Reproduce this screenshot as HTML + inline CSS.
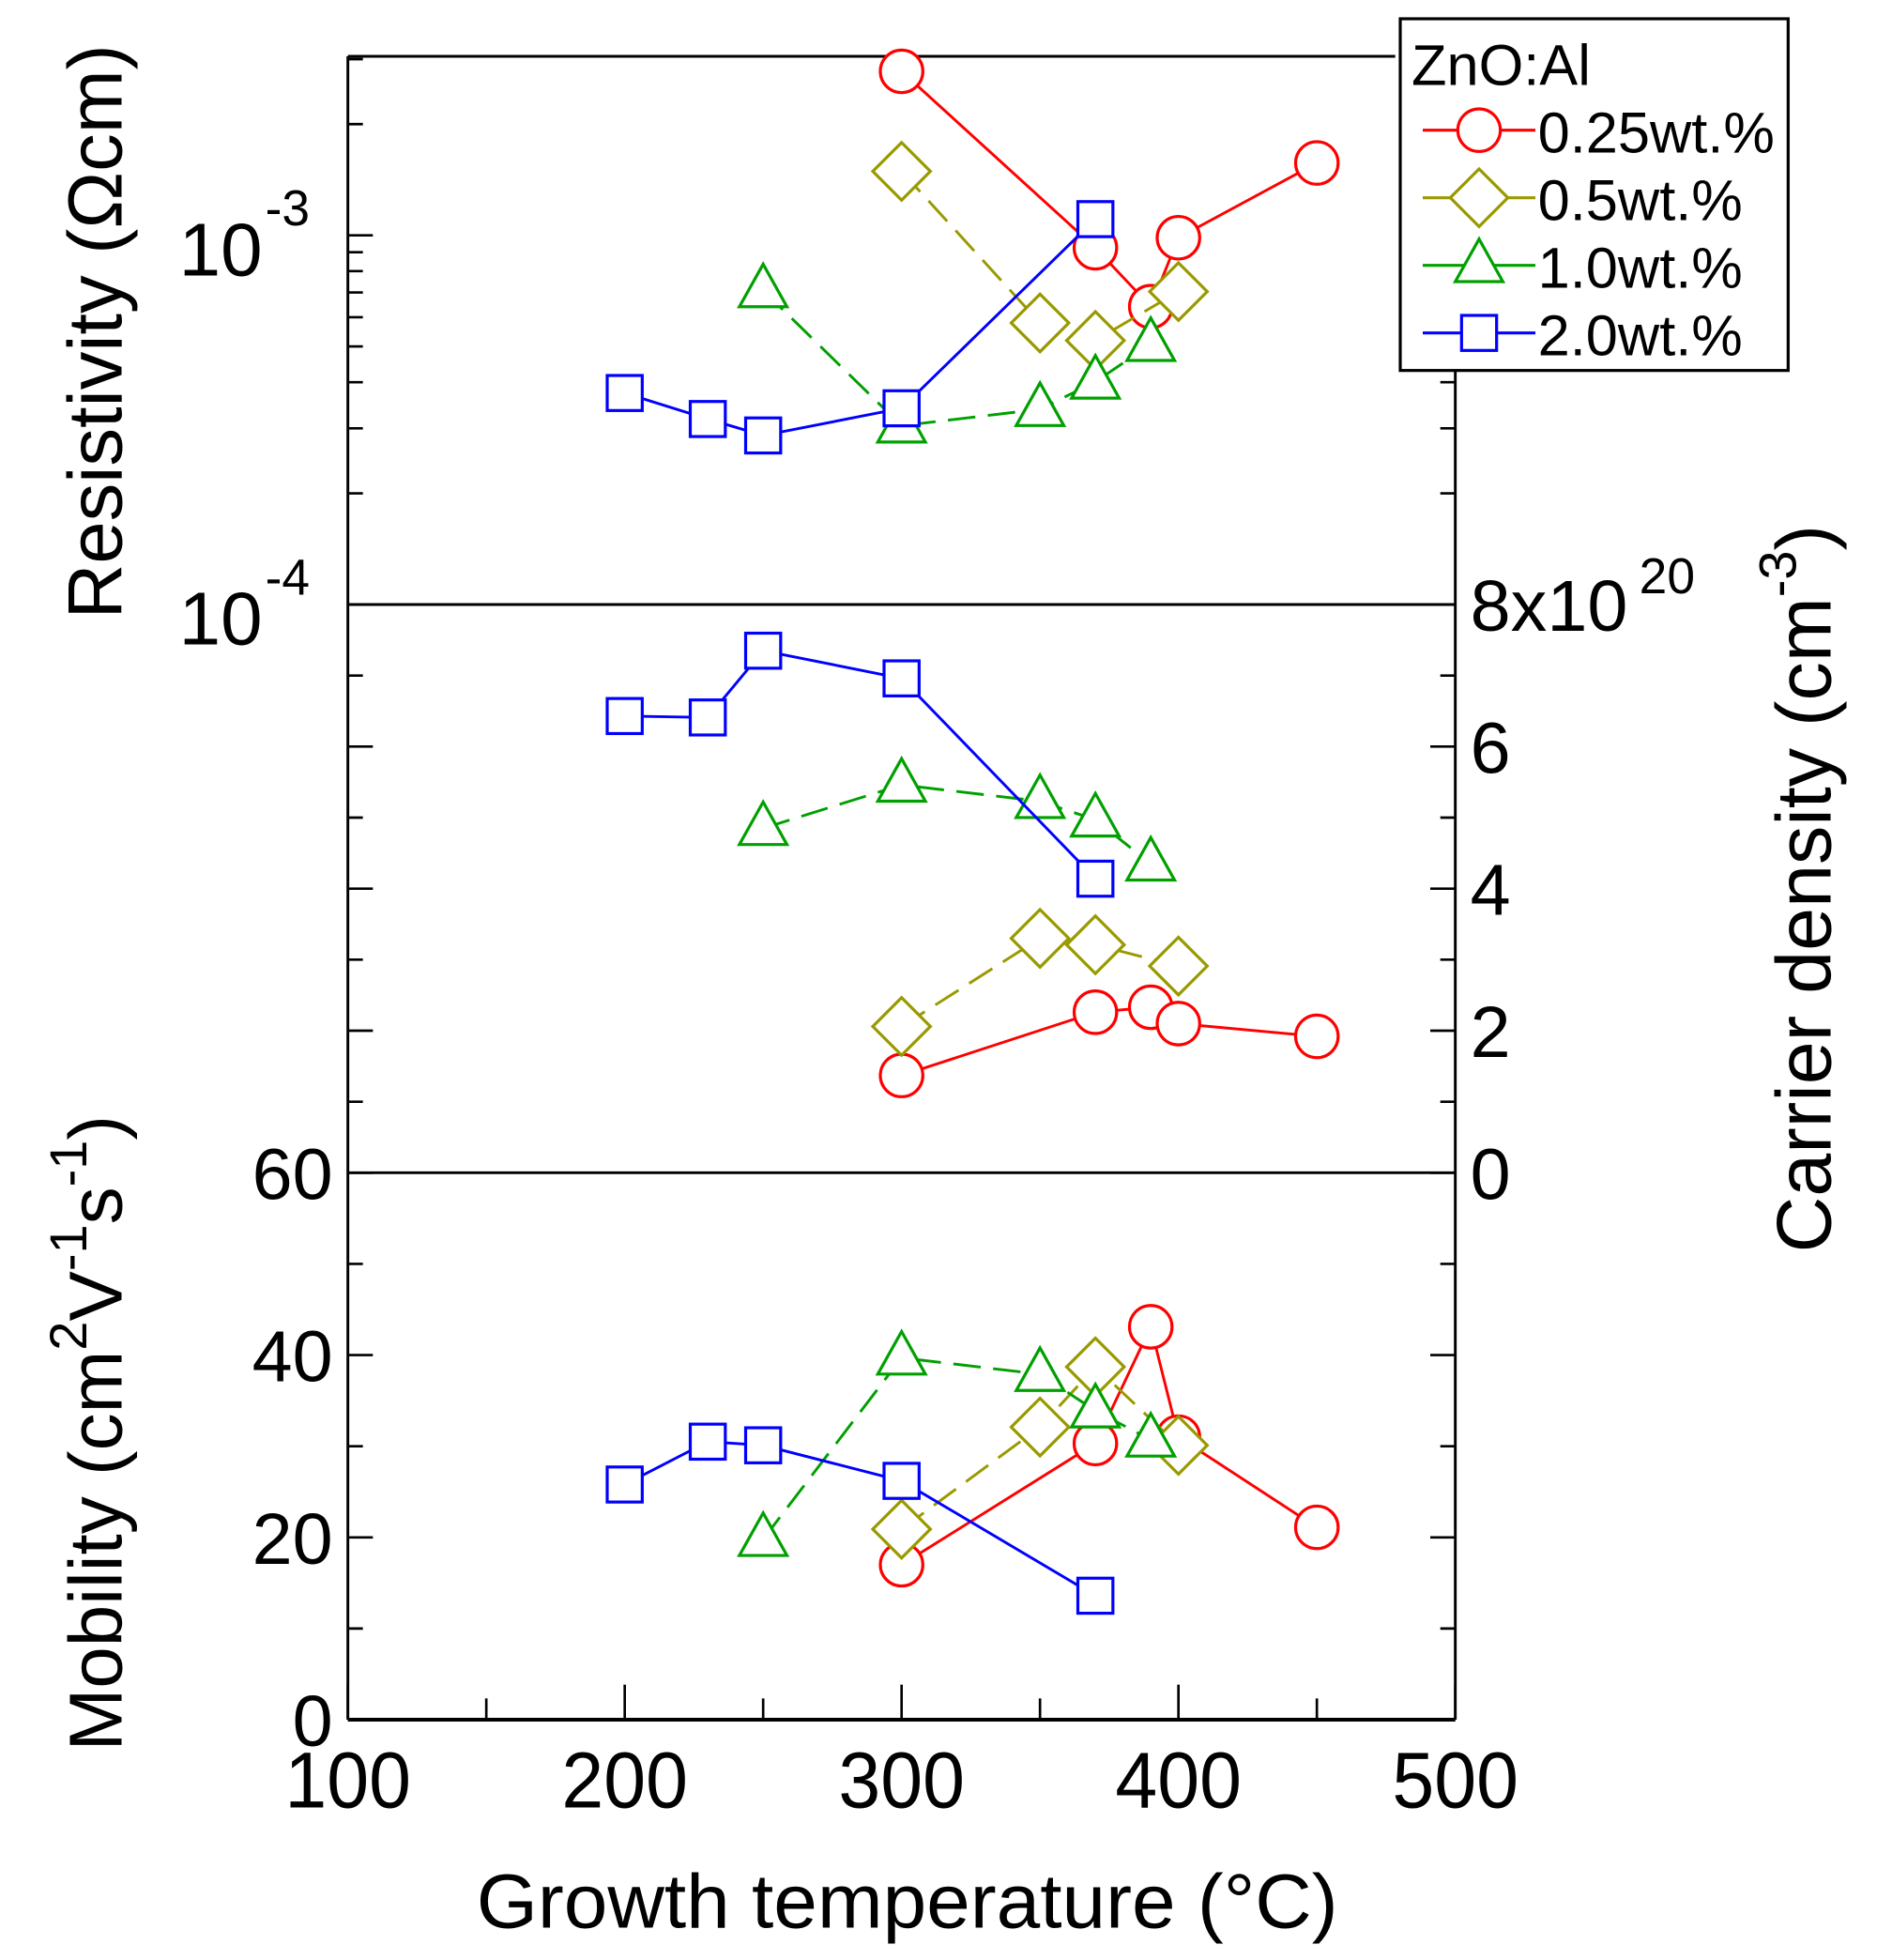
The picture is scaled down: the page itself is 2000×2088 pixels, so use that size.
<!DOCTYPE html>
<html><head><meta charset="utf-8"><style>
html,body{margin:0;padding:0;background:#fff;}
svg{display:block;font-family:"Liberation Sans",Arial,sans-serif;}
</style></head><body>
<svg id="chart" width="2000" height="2088" viewBox="0 0 1500 1566" xmlns="http://www.w3.org/2000/svg">
<g id="axes"></g>
<g id="series"></g>
<g id="legend"></g>
</svg>
<script>
const temps = {
  r: [300, 370, 390, 400, 450],
  o: [300, 350, 370, 400],
  g: [250, 300, 350, 370, 390],
  b: [200, 230, 250, 300, 370]
};
const resRed = [2.78e-3, 0.925e-3, 0.641e-3, 0.985e-3, 1.57e-3];
const resOlive = [1.49e-3, 0.579e-3, 0.519e-3, 0.704e-3];
const resGreen = [0.709e-3, 0.305e-3, 0.338e-3, 0.401e-3, 0.507e-3];
const resBlue = [0.374e-3, 0.318e-3, 0.287e-3, 0.340e-3, 1.106e-3];
const carRed = [1.37, 2.26, 2.33, 2.10, 1.92];
const carOlive = [2.06, 3.3, 3.21, 2.91];
const carGreen = [4.85, 5.46, 5.23, 4.97, 4.35];
const carBlue = [6.43, 6.41, 7.35, 6.96, 4.14];
const mobRed = [17.0, 30.3, 43.1, 31.0, 21.1];
const mobOlive = [20.9, 32.1, 38.7, 30.1];
const mobGreen = [19.8, 39.7, 37.9, 33.9, 30.7];
const mobBlue = [25.8, 30.5, 30.1, 26.2, 13.6];
const xTicks = [100, 200, 300, 400, 500];
const carTicks = [0, 2, 4, 6, 8];
const mobTicks = [0, 20, 40, 60];
const legendLabels = ["0.25wt.%", "0.5wt.%", "1.0wt.%", "2.0wt.%"];

const NS = "http://www.w3.org/2000/svg";
const L = 278, R = 1163, TOP = 45;
const X = t => L + (t - 100) * (R - L) / 400;
const YR = v => 188 - (Math.log10(v) + 3) * 295;
const YC = v => 937 - v * 56.75;
const YM = v => 1374 - v * (437 / 60);

function el(tag, attrs, parent, text) {
  const e = document.createElementNS(NS, tag);
  for (const k in attrs) e.setAttribute(k, attrs[k]);
  if (text !== undefined) e.textContent = text;
  parent.appendChild(e);
  return e;
}
const axes = document.getElementById('axes');
const ser = document.getElementById('series');
const leg = document.getElementById('legend');
const ax = {stroke: '#000', 'stroke-width': 2.2};

let f = el('line', Object.assign({x1: L, y1: TOP, x2: 1115, y2: TOP}, ax), axes);


f = el('line', Object.assign({x1: L, y1: TOP, x2: L, y2: 1374}, ax), axes);


f = el('line', Object.assign({x1: L, y1: 1374, x2: R, y2: 1374}, ax, {'stroke-width': 3}), axes);


f = el('line', Object.assign({x1: R, y1: 296, x2: R, y2: 1374}, ax), axes);


f = el('line', Object.assign({x1: L, y1: 483, x2: R, y2: 483}, ax), axes);


f = el('line', Object.assign({x1: L, y1: 937, x2: R, y2: 937}, ax), axes);



function tick(x, y, len, dir, name) {
  const t = el('line', Object.assign({x1: x, y1: y, x2: x + len * dir, y2: y}, ax, {'stroke-width': 2}), axes);
  
  
}
for (let d = -4; d <= -3; d++) {
  for (let m = 1; m <= 9; m++) {
    const v = m * Math.pow(10, d);
    const y = YR(v);
    if (y < TOP) continue;
    tick(L, y, m === 1 ? 20 : 12, 1, 'res-tick');
    if (y > 296) tick(R, y, m === 1 ? 20 : 12, -1, 'res-tick-right');
  }
}
for (let v = 0; v <= 8; v++) {
  tick(L, YC(v), v % 2 ? 12 : 20, 1, 'carrier-tick');
  tick(R, YC(v), v % 2 ? 12 : 20, -1, 'carrier-tick-right');
}
for (let v = 0; v <= 60; v += 10) {
  tick(L, YM(v), v % 20 ? 12 : 20, 1, 'mobility-tick');
  tick(R, YM(v), v % 20 ? 12 : 20, -1, 'mobility-tick-right');
}
for (let t = 100; t <= 500; t += 50) {
  const big = t % 100 === 0;
  const k = el('line', Object.assign({x1: X(t), y1: 1374, x2: X(t), y2: 1374 - (big ? 28 : 17)}, ax, {'stroke-width': 2}), axes);
  
  
}
xTicks.forEach(t => {
  const e = el('text', {x: X(t), y: 1444, 'font-size': 63, 'text-anchor': 'middle', transform: `translate(${X(t)},0) scale(0.96,1) translate(${-X(t)},0)`}, axes, String(t));
  
  
});
mobTicks.forEach(v => {
  const e = el('text', {x: 266, y: YM(v) + 21, 'font-size': 58, 'text-anchor': 'end'}, axes, String(v));
  
  
});
carTicks.forEach(v => {
  const e = el('text', {x: 1175, y: YC(v) + 21, 'font-size': 58}, axes, v === 8 ? '8x10' : String(v));
  
  
});
let s = el('text', {x: 1310, y: 474, 'font-size': 40}, axes, '20');


[[-3, 188], [-4, 483]].forEach(([p, y]) => {
  const e = el('text', {x: 143, y: y + 32, 'font-size': 60}, axes, '10');
  
  
  const e2 = el('text', {x: 212, y: y - 8, 'font-size': 40}, axes, String(p));
  
  
});
let t1 = el('text', {x: 0, y: 0, 'font-size': 61, 'text-anchor': 'middle', transform: 'translate(97,265) rotate(-90)'}, axes, 'Resistivity (Ωcm)');


let t2 = el('text', {x: 0, y: 0, 'font-size': 60, 'text-anchor': 'middle', transform: 'translate(97,1145) rotate(-90)'}, axes);


t2.innerHTML = 'Mobility (cm<tspan dy="-28" font-size="42">2</tspan><tspan dy="28">V</tspan><tspan dy="-28" font-size="42">-1</tspan><tspan dy="28">s</tspan><tspan dy="-28" font-size="42">-1</tspan><tspan dy="28">)</tspan>';
let t3 = el('text', {x: 0, y: 0, 'font-size': 62, 'text-anchor': 'middle', transform: 'translate(1463,710) rotate(-90)'}, axes);


t3.innerHTML = 'Carrier density (cm<tspan dy="-28" font-size="42">-3</tspan><tspan dy="28">)</tspan>';
let t4 = el('text', {x: 725, y: 1540, 'font-size': 61, 'text-anchor': 'middle', transform: 'translate(725,0) scale(1.03,1) translate(-725,0)'}, axes, 'Growth temperature (°C)');



function marker(kind, x, y, color, parent) {
  let m;
  const st = {fill: '#fff', stroke: color, 'stroke-width': 2.4};
  if (kind === 'circle') m = el('circle', Object.assign({cx: x, cy: y, r: 17}, st), parent);
  else if (kind === 'diamond') m = el('polygon', Object.assign({points: `${x},${y-23} ${x+23},${y} ${x},${y+23} ${x-23},${y}`}, st), parent);
  else if (kind === 'triangle') m = el('polygon', Object.assign({points: `${x},${y-21} ${x+19},${y+13} ${x-19},${y+13}`}, st), parent);
  else m = el('rect', Object.assign({x: x - 14, y: y - 14, width: 28, height: 28}, st), parent);
  return m;
}
const defs = [
  {key: 'r', name: 'red-0.25', color: '#ff0000', kind: 'circle', dash: null, res: resRed, car: carRed, mob: mobRed},
  {key: 'o', name: 'olive-0.5', color: '#999900', kind: 'diamond', dash: '22 10', res: resOlive, car: carOlive, mob: mobOlive},
  {key: 'g', name: 'green-1.0', color: '#00a000', kind: 'triangle', dash: '22 10', res: resGreen, car: carGreen, mob: mobGreen},
  {key: 'b', name: 'blue-2.0', color: '#0000ff', kind: 'square', dash: null, res: resBlue, car: carBlue, mob: mobBlue}
];
defs.forEach(d => {
  [['res', YR], ['car', YC], ['mob', YM]].forEach(([k, fy]) => {
    const g = el('g', {}, ser);
    
    
    const pts = temps[d.key].map((t, i) => [X(t), fy(d[k][i])]);
    const line = el('polyline', {points: pts.map(p => p.join(',')).join(' '), fill: 'none', stroke: d.color, 'stroke-width': 2.2}, g);
    if (d.dash) line.setAttribute('stroke-dasharray', d.dash);
    
    
    pts.forEach(p => {
      const m = marker(d.kind, p[0], p[1], d.color, g);
      
      
    });
  });
});
const lb = el('rect', {x: 1119, y: 15, width: 310, height: 281, fill: '#fff', stroke: '#000', 'stroke-width': 2.4}, leg);


const lt = el('text', {x: 1128, y: 68, 'font-size': 46}, leg, 'ZnO:Al');


defs.forEach((d, i) => {
  const y = 104 + i * 54;
  const g = el('g', {}, leg);
  
  
  el('line', {x1: 1137, y1: y, x2: 1227, y2: y, stroke: d.color, 'stroke-width': 2.4}, g);
  const mk = marker(d.kind, 1182, y, d.color, g);
  
  
  const tx = el('text', {x: 1229, y: y + 18, 'font-size': 46}, g, legendLabels[i]);
  
  
});
</script>
</body></html>
